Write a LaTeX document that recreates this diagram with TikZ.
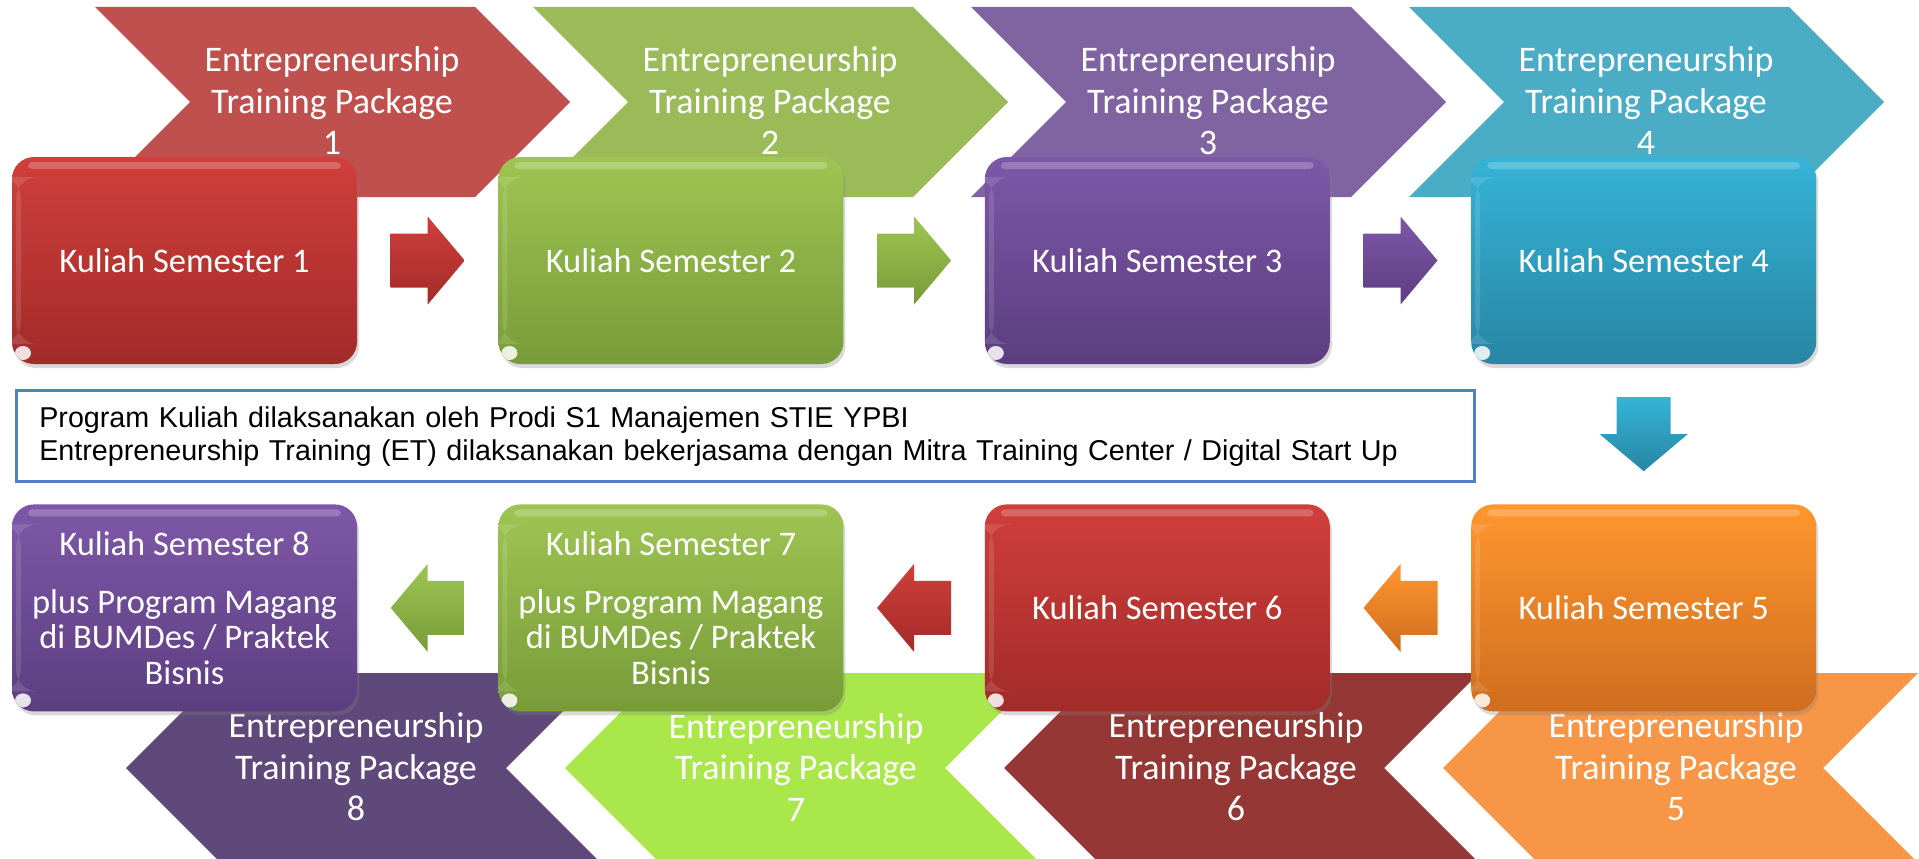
\documentclass[tikz,border=0pt]{standalone}
\usepackage{fontspec}
\setmainfont{Carlito}
\newfontfamily\notefont{Liberation Sans}
\usepackage{tikz}
\usetikzlibrary{positioning, calc, shadows}

% chevron colours
\definecolor{etred}{HTML}{C0504D}
\definecolor{etgreen}{HTML}{9BBB59}
\definecolor{etpurple}{HTML}{8064A2}
\definecolor{etteal}{HTML}{4BACC6}
\definecolor{etorange}{HTML}{F79646}
\definecolor{etdarkred}{HTML}{953735}
\definecolor{etlime}{HTML}{A9E74A}
\definecolor{etdarkpurple}{HTML}{5F497A}
% box colours
\definecolor{redtop}{HTML}{D03F3B}
\definecolor{redbot}{HTML}{A22B29}
\definecolor{greentop}{HTML}{9EC553}
\definecolor{greenbot}{HTML}{789B38}
\definecolor{purptop}{HTML}{7E58A8}
\definecolor{purpbot}{HTML}{5C3E80}
\definecolor{tealtop}{HTML}{35B3D6}
\definecolor{tealbot}{HTML}{2886A4}
\definecolor{orangetop}{HTML}{FF962E}
\definecolor{orangebot}{HTML}{CF6D1E}
\definecolor{noteblue}{HTML}{4F81BD}

\begin{document}
\begin{tikzpicture}[
      x=1pt, y=-1pt,
      node distance=140pt and 141pt,
      kbox/.style 2 args={
        rectangle,
        rounded corners=22pt,
        minimum width=345pt,
        minimum height=207pt,
        inner sep=0pt,
        align=center,
        text=white,
        font=\fontsize{34.5}{35.5}\selectfont,
        top color=#1,
        bottom color=#2,
        drop shadow={shadow xshift=2pt, shadow yshift=-4pt, opacity=.3},
        path picture={
          \fill[white, opacity=.22, rounded corners=4pt]
            ([xshift=16pt, yshift=-5pt]path picture bounding box.north west)
            rectangle ([xshift=-16pt, yshift=-12pt]path picture bounding box.north east);
          \fill[white, opacity=.12]
            ([xshift=4pt, yshift=-20pt]path picture bounding box.north west)
            rectangle ([xshift=9pt, yshift=20pt]path picture bounding box.south west);
          \fill[white, opacity=.85]
            ([xshift=11pt, yshift=11pt]path picture bounding box.south west) ellipse (8pt and 7pt);
        },
      },
      ettext/.style={
        text=white,
        align=center,
        font=\fontsize{36}{41.5}\selectfont,
      },
      notebox/.style={
        rectangle,
        draw=noteblue,
        line width=3pt,
        fill=white,
        text width=1412pt,
        inner xsep=23pt,
        minimum height=91pt,
        align=left,
        font=\notefont\fontsize{28.7}{33}\selectfont,
      },
      chevron/.pic={
        \path[pic actions] (0,0) -- (380,0) -- (475,95) -- (380,190) -- (0,190) -- (95,95) -- cycle;
      },
      blockarrow/.pic={
        \path[pic actions] (-37,-27) -- (0,-27) -- (0,-44) -- (37,0) -- (0,44) -- (0,27) -- (-37,27) -- cycle;
      }
    ]
      \useasboundingbox (0,0) rectangle (1919,859);

      % training packages behind the boxes
      \foreach \i/\col in {1/etred, 2/etgreen, 3/etpurple, 4/etteal} {
        \path ({95+438*(\i-1)},7) pic[fill=\col] {chevron};
        \node[ettext] (et\i) at ({332+438*(\i-1)},101) {Entrepreneurship\\Training Package\\\i};
      }
      \foreach \i/\col [count=\k from 0] in {5/etorange, 6/etdarkred, 7/etlime, 8/etdarkpurple} {
        \path ({1918-439*\k},673) pic[fill=\col, xscale=-1] {chevron};
        \node[ettext] (et\i) at ({1676-440*\k},767) {Entrepreneurship\\Training Package\\\i};
      }

      % semester boxes, top row left to right
      \node[kbox={redtop}{redbot}] (k1) at (184.5,260.5) {Kuliah Semester 1};
      \node[kbox={greentop}{greenbot}, right=of k1] (k2) {Kuliah Semester 2};
      \node[kbox={purptop}{purpbot}, right=of k2] (k3) {Kuliah Semester 3};
      \node[kbox={tealtop}{tealbot}, right=of k3] (k4) {Kuliah Semester 4};
      % bottom row right to left
      \node[kbox={orangetop}{orangebot}, below=of k4] (k5) {Kuliah Semester 5};
      \node[kbox={redtop}{redbot}, left=of k5] (k6) {Kuliah Semester 6};
      \node[kbox={greentop}{greenbot}, left=of k6] (k7)
        {Kuliah Semester 7\\[22pt]plus Program Magang\\di BUMDes / Praktek\\Bisnis};
      \node[kbox={purptop}{purpbot}, left=of k7] (k8)
        {Kuliah Semester 8\\[22pt]plus Program Magang\\di BUMDes / Praktek\\Bisnis};

      % block arrows between the boxes
      \path ($(k1.east)!0.5!(k2.west)$) pic[top color=redtop, bottom color=redbot] {blockarrow};
      \path ($(k2.east)!0.5!(k3.west)$) pic[top color=greentop, bottom color=greenbot] {blockarrow};
      \path ($(k3.east)!0.5!(k4.west)$) pic[top color=purptop, bottom color=purpbot] {blockarrow};
      \path ($(k4.south)!0.5!(k5.north)$) pic[rotate=-90, top color=tealtop, bottom color=tealbot] {blockarrow};
      \path ($(k5.west)!0.5!(k6.east)$) pic[rotate=180, top color=orangetop, bottom color=orangebot] {blockarrow};
      \path ($(k6.west)!0.5!(k7.east)$) pic[rotate=180, top color=redtop, bottom color=redbot] {blockarrow};
      \path ($(k7.west)!0.5!(k8.east)$) pic[rotate=180, top color=greentop, bottom color=greenbot] {blockarrow};

      % note between the rows
      \node[notebox, below right=25pt and 3pt of k1.south west] (note)
        {Program Kuliah dilaksanakan oleh Prodi S1 Manajemen STIE YPBI\\
         Entrepreneurship Training (ET) dilaksanakan bekerjasama dengan Mitra Training Center / Digital Start Up};
    \end{tikzpicture}
\end{document}
